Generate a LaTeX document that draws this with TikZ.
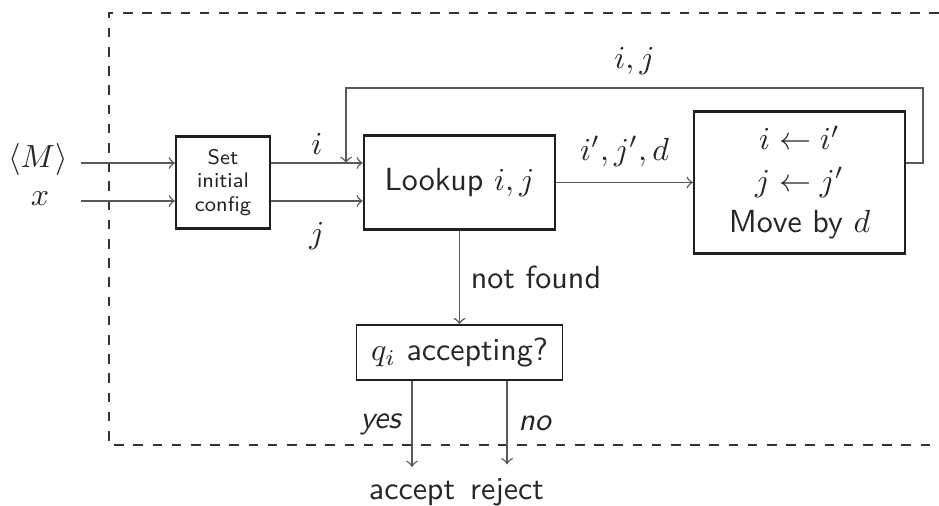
\documentclass[tikz,border=0pt]{standalone}
\usepackage{fontspec}
\begin{document}
\begin{tikzpicture}[x=0.3125pt,y=-0.3125pt,
  every node/.style={text=black!85},
  font=\sffamily\fontsize{10}{12}\selectfont,
  box/.style={draw=black!88, line width=0.8pt, align=center, inner sep=0pt},
  conn/.style={draw=black!65, line width=0.45pt, ->},
  frame/.style={draw=black!80, line width=0.8pt, dashed}]
\useasboundingbox (0,0) rectangle (939,506);
% dashed frame
\coordinate (fa) at (939,13);
\coordinate (fb) at (109,13);
\coordinate (fc) at (109,445);
\coordinate (fd) at (939,445);
\draw[frame] (fa) -- (fb) -- (fc) -- (fd);
% boxes
\node[box, line width=0.65pt, minimum width=29.4pt, minimum height=28.75pt,
      font=\sffamily\fontsize{6.6}{7.3}\selectfont] (setc) at (223,182.5) {Set\\initial\\config};
\node[box, minimum width=59.7pt, minimum height=29.4pt] (look) at (459.5,182.5) {Lookup $i,j$};
\node[box, minimum width=65.9pt, minimum height=44.4pt,
      font=\sffamily\fontsize{10}{13}\selectfont] (move) at (799.5,182.5) {$i\leftarrow i'$\\$j\leftarrow j'$\\Move by $d$};
\node[box, line width=0.5pt, minimum width=64.4pt, minimum height=17.2pt] (acc) at (459.5,352.5) {$q_i$ accepting?};
% inputs
\node (lM) at (38,160) {$\langle M\rangle$};
\node (lx) at (40,199) {$x$};
\coordinate (inM) at (81,163);
\coordinate (inx) at (81,201);
\draw[conn] (inM) -- (inM -| setc.west);
\draw[conn] (inx) -- (inx -| setc.west);
% i, j
\draw[conn] (setc.east |- inM) -- node[above=-1pt]{$i$} (look.west |- inM);
\draw[conn] (setc.east |- inx) -- node[below=3pt]{$j$} (look.west |- inx);
% lookup -> move
\draw[conn] (look) -- node[midway, above=1.5pt]{$i',j',d$} (move);
% feedback
\coordinate (fbR) at (923,88);
\coordinate (fbL) at (346,88);
\draw[conn] (move.east |- inM) -| (fbR) -- node[above=0.5pt]{$i,j$} (fbL) -- (fbL |- inM);
% not found
\draw[conn] (look) -- node[right]{not found} (acc);
% outputs
\node[anchor=base, inner sep=1pt] (accept) at (412,500) {accept};
\node[anchor=base, inner sep=1pt] (reject) at (507,500) {reject};
\draw[conn, shorten >=3.4pt] (acc.south -| accept) -- node[left, pos=0.45, font=\sffamily\itshape]{yes} (accept.north);
\draw[conn, shorten >=3.4pt] (acc.south -| reject) -- node[right, pos=0.45, font=\sffamily\itshape]{no} (reject.north);
\end{tikzpicture}
\end{document}
